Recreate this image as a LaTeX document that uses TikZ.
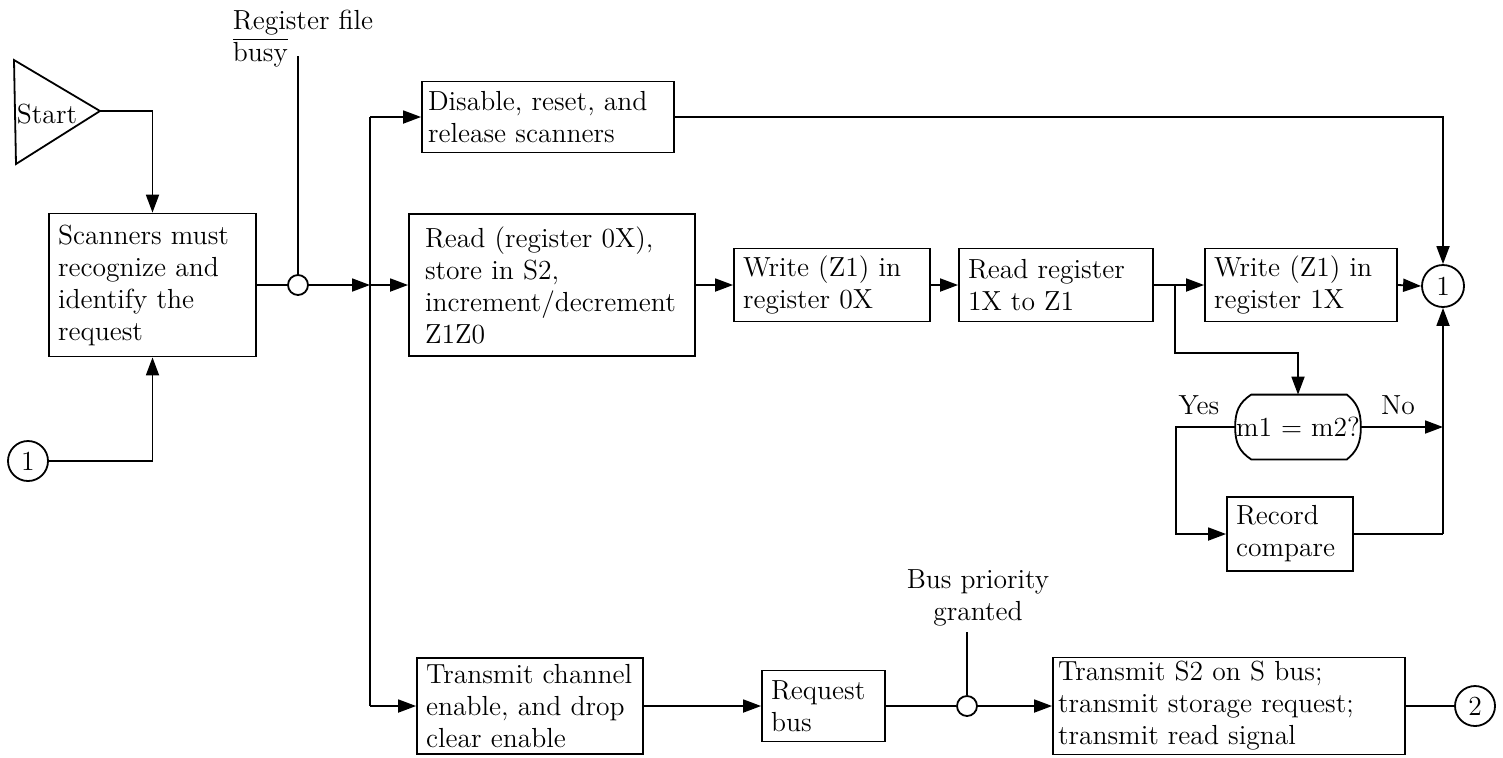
\documentclass[tikz,border=0pt]{standalone}
\usepackage{tikz}
\usetikzlibrary{arrows.meta,calc}

\tikzset{
  blk/.style={draw, line width=0.9pt, inner xsep=4.5pt, inner ysep=2pt, align=left},
  conn/.style={draw, circle, line width=0.9pt, inner sep=0pt},
  tap/.style={draw, circle, line width=0.9pt, inner sep=0pt, minimum size=10pt},
  arr/.style={-{Triangle[length=9pt,width=6.5pt]}},
}

\begin{document}
\begin{tikzpicture}[x=0.5pt,y=0.5pt,yscale=-1,line width=0.9pt,font=\fontsize{13.8}{16}\selectfont]
\useasboundingbox (0,0) rectangle (1503,757);

%Start symbol
\draw (14,60) -- (100,111) -- (16,164) -- cycle;
\coordinate (startout) at (100,111);
\node (start) at (47,114) {Start};

%Blocks
\node (scan) [blk, text width=94.5pt, minimum height=71.5pt] at (152.5,285) {Scanners must\\recognize and\\identify the\\request};
\node (disable) [blk, inner xsep=3pt, text width=120pt, minimum height=35.5pt] at (548,117) {Disable, reset, and\\release scanners};
\node (readox) [blk, inner xsep=8pt, text width=127pt, minimum height=71pt] at (552,285) {Read (register 0X),\\store in S2,\\increment/decrement\\Z1Z0};
\node (wrzero) [blk, text width=89pt, minimum height=36.5pt] at (832,285) {Write (Z1) in\\register 0X};
\node (rdone) [blk, text width=88pt, minimum height=36.5pt] at (1056,285) {Read register\\1X to Z1};
\node (wrone) [blk, text width=87pt, minimum height=36.5pt] at (1301,285) {Write (Z1) in\\register 1X};
\node (record) [blk, text width=54pt, minimum height=37pt] at (1290,534) {Record\\compare};
\node (txch) [blk, text width=104pt, minimum height=48pt] at (530,706) {Transmit channel\\enable, and drop\\clear enable};
\node (reqbus) [blk, text width=52.5pt, minimum height=35.5pt] at (823.5,706) {Request\\bus};
\node (txstwo) [blk, inner xsep=2.5pt, text width=171pt, minimum height=48pt] at (1229,706) {Transmit S2 on S bus;\\transmit storage request;\\transmit read signal};

%Decision m1 = m2?
\node (dec) [inner sep=0pt, minimum width=61pt, minimum height=31.5pt] at (1298,427) {m1 = m2?};
\draw ($(dec.north west)+(16,0)$) -- ($(dec.north east)+(-14,0)$)
  .. controls ($(dec.north east)+(-4,8)$) and ($(dec.east)+(0,-16)$) .. (dec.east)
  .. controls ($(dec.east)+(0,16)$) and ($(dec.south east)+(-4,-8)$) .. ($(dec.south east)+(-14,0)$)
  -- ($(dec.south west)+(16,0)$)
  .. controls ($(dec.south west)+(4,-8)$) and ($(dec.west)+(0,16)$) .. (dec.west)
  .. controls ($(dec.west)+(0,-16)$) and ($(dec.north west)+(4,8)$) .. ($(dec.north west)+(16,0)$) -- cycle;
\node (yes) at (1199,405) {Yes};
\node (no) at (1398,405) {No};

%Connectors
\node (oneleft) [conn, minimum size=20pt] at (28,461) {1};
\node (one) [conn, minimum size=21pt] at (1443,286) {1};
\node (two) [conn, minimum size=20pt] at (1475,706) {2};

%Taps
\node (busy) [tap] at (298,285) {};
\node (prio) [tap] at (967,706) {};
\coordinate (busytop) at (298,56);
\coordinate (priotop) at (967,632);
\node (busylbl) [anchor=north west, align=left, inner sep=0pt] at (232,9) {Register file\\$\overline{\mbox{busy}}$};
\node (priolbl) [align=center, inner sep=0pt] at (978,598) {Bus priority\\granted};

%Distribution bus
\coordinate (bustop) at (370,117);
\coordinate (busmid) at (370,285);
\coordinate (busbot) at (370,706);
\coordinate (split) at (1175,285);
\coordinate (splitdn) at (1175,353);
\coordinate (nojoin) at (1443,427);
\coordinate (recjoin) at (1443,534);

%Straight Lines
\draw[arr] (startout) -| (scan.north);
\draw[arr] (oneleft.east) -| (scan.south);
\draw (busytop) -- (busy.north);
\draw (scan.east) -- (busy.west);
\draw[arr] (busy.east) -- (busmid);
\draw (bustop) -- (busbot);
\draw[arr] (bustop) -- (disable.west);
\draw[arr] (busmid) -- (readox.west);
\draw[arr] (busbot) -- (txch.west);
\draw[arr] (readox.east) -- (wrzero.west);
\draw[arr] (wrzero.east) -- (rdone.west);
\draw (rdone.east) -- (split);
\draw[arr] (split) -- (wrone.west);
\draw[arr] (wrone.east) -- (one.west);
\draw[arr] (disable.east) -| (one.north);
\draw[arr] (split) -- (splitdn) -| (dec.north);
\draw[arr] (dec.east) -- (nojoin);
\draw[arr] (dec.west) -- ++(-59,0) |- (record.west);
\draw (record.east) -- (recjoin);
\draw[arr] (recjoin) -- (one.south);
\draw[arr] (txch.east) -- (reqbus.west);
\draw (reqbus.east) -- (prio.west);
\draw (priotop) -- (prio.north);
\draw[arr] (prio.east) -- (txstwo.west);
\draw (txstwo.east) -- (two.west);

\end{tikzpicture}
\end{document}
